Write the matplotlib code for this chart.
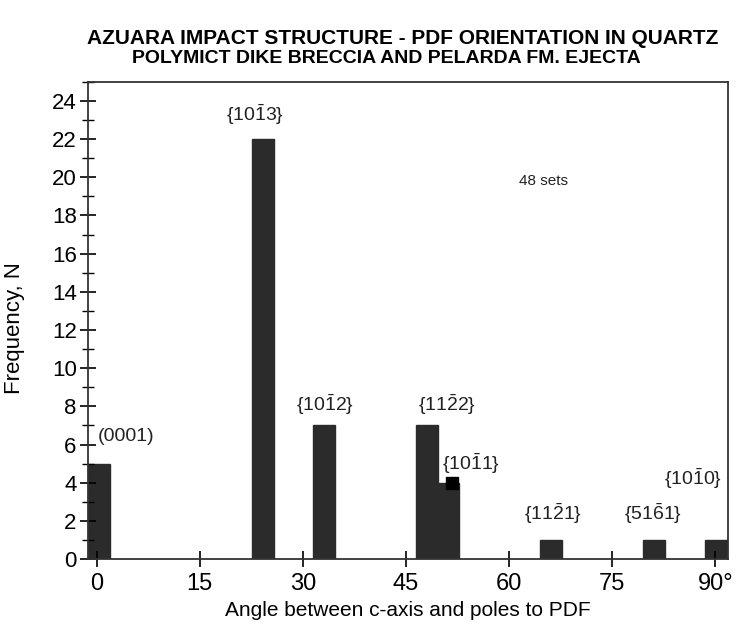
import matplotlib.pyplot as plt
from matplotlib.ticker import MultipleLocator

# bar data (left edge of each bin, degrees)
bin_left = [-1.3, 22.6, 31.4, 46.4, 49.5, 64.5, 79.5, 88.5]
counts = [5, 22, 7, 7, 4, 1, 1, 1]

planes = ['(0001)', r'{10$\bar{1}$3}', r'{10$\bar{1}$2}', r'{11$\bar{2}$2}',
          r'{10$\bar{1}$1}', r'{11$\bar{2}$1}', r'{51$\bar{6}$1}', r'{10$\bar{1}$0}']
label_x = [0.2, 23.0, 33.2, 51.0, 54.5, 66.4, 81.0, 86.8]
label_y = [6.4, 23.3, 8.1, 8.1, 5.0, 2.4, 2.4, 4.2]

xticks = [0, 15, 30, 45, 60, 75, 90]
xticklabels = ['0', '15', '30', '45', '60', '75', '90°']
yticks = list(range(0, 25, 2))

plt.rcParams['font.family'] = ['Liberation Sans', 'DejaVu Sans']
plt.rcParams['mathtext.fontset'] = 'custom'
plt.rcParams['mathtext.rm'] = 'Liberation Sans'

fig = plt.figure(figsize=(7.38, 6.39), dpi=100)
ax = fig.add_axes([0.119, 0.125, 0.867, 0.747])

ax.bar(bin_left, counts, width=3.2, align='edge', color='#2b2b2b', edgecolor='#2b2b2b')

for i in range(len(planes)):
    ha = 'left' if i == 0 else 'center'
    ax.text(label_x[i], label_y[i], planes[i], ha=ha, va='center', fontsize=14, color='#222222')

ax.text(65, 19.8, '48 sets', ha='center', va='center', fontsize=11, color='#222222')
# little black blot on the scan
ax.plot([51.7], [4.0], 's', color='black', markersize=8)

ax.set_xlim(-1.3, 91.8)
ax.set_ylim(0, 25)
ax.set_xticks(xticks)
ax.set_xticklabels(xticklabels, fontsize=17)
ax.set_yticks(yticks)
ax.set_yticklabels([str(v) for v in yticks], fontsize=16)
ax.yaxis.set_minor_locator(MultipleLocator(1))
ax.tick_params(axis='both', which='major', direction='inout', length=12, width=1.2)
ax.tick_params(axis='y', which='minor', direction='inout', length=8, width=1)
ax.tick_params(axis='x', pad=4)
ax.tick_params(axis='y', pad=2)
for s in ax.spines.values():
    s.set_linewidth(1.3)
    s.set_color('#333333')

ax.set_xlabel('Angle between c-axis and poles to PDF', fontsize=15, labelpad=4)
ax.set_ylabel('Frequency, N', fontsize=16)
ax.yaxis.set_label_coords(-0.098, 0.485)

fig.text(0.546, 0.94, 'AZUARA IMPACT STRUCTURE - PDF ORIENTATION IN QUARTZ',
         ha='center', va='center', fontsize=15, fontweight='bold')
fig.text(0.524, 0.908, 'POLYMICT DIKE BRECCIA AND PELARDA FM. EJECTA',
         ha='center', va='center', fontsize=14, fontweight='bold')

fig.savefig('out.png', dpi=100)
